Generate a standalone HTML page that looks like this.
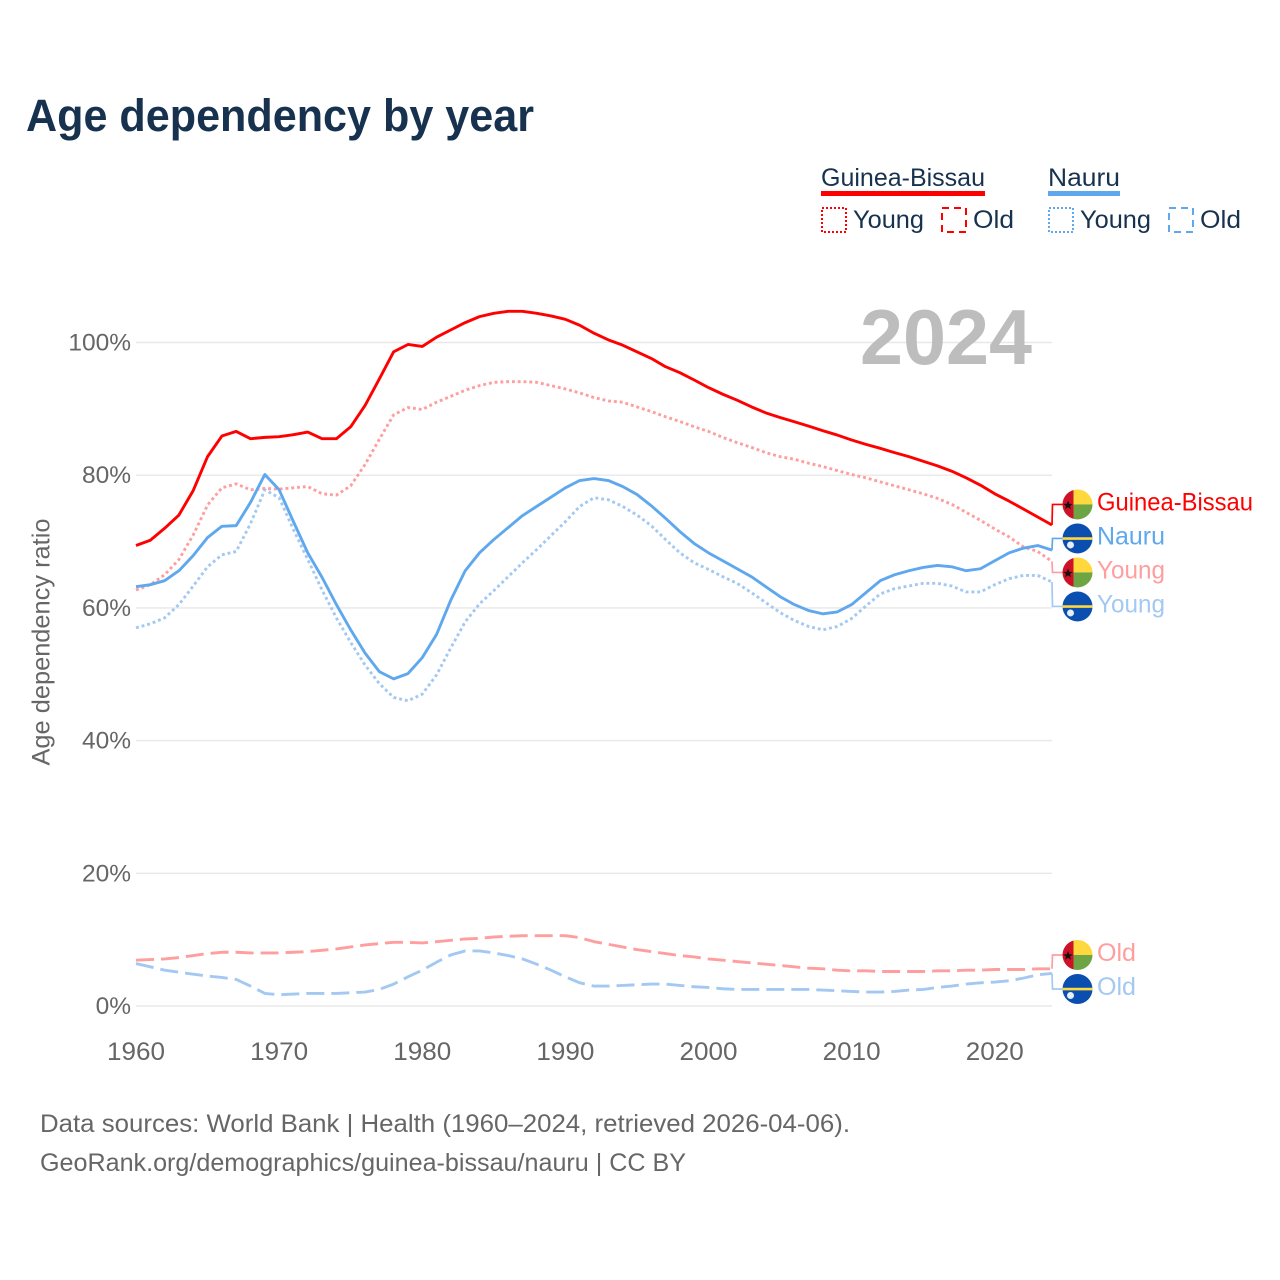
<!DOCTYPE html>
<html lang="en">
<head>
<meta charset="utf-8">
<title>Age dependency by year</title>
<style>
html,body{margin:0;padding:0;background:#fff;}
svg{display:block;font-family:"Liberation Sans",sans-serif;}
</style>
</head>
<body>
<svg id="chart" xmlns="http://www.w3.org/2000/svg" width="1280" height="1280" viewBox="0 0 1280 1280">
  <defs>
    <clipPath id="flag-clip"><circle cx="0" cy="0" r="15"/></clipPath>
  </defs>
  <rect x="0" y="0" width="1280" height="1280" fill="#ffffff"/>
  <text x="26" y="131" font-size="45" font-weight="700" fill="#17324f" textLength="508" lengthAdjust="spacingAndGlyphs">Age dependency by year</text>

  <g id="gridlines"></g>
  <text x="1032" y="364" text-anchor="end" font-size="78" font-weight="700" fill="#bdbdbd" textLength="172" lengthAdjust="spacingAndGlyphs">2024</text>
  <g id="axes"></g>
  <text transform="translate(49.5,642) rotate(-90)" text-anchor="middle" font-size="25" fill="#666666" textLength="247" lengthAdjust="spacingAndGlyphs">Age dependency ratio</text>
  <g id="series"></g>
  <g id="end-labels"></g>

  <g>
    <g>
      <text x="821" y="186" font-size="25" fill="#17324f" textLength="164" lengthAdjust="spacingAndGlyphs">Guinea-Bissau</text>
      <rect x="821" y="191" width="164" height="5" fill="#ff0000"/>
    </g>
    <g>
      <rect x="822" y="208" width="24" height="24" fill="none" stroke="#ff0000" stroke-width="2" stroke-dasharray="2 2"/>
      <text x="853" y="228" font-size="25" fill="#17324f" textLength="71" lengthAdjust="spacingAndGlyphs">Young</text>
    </g>
    <g>
      <rect x="942" y="208" width="24" height="24" fill="none" stroke="#ff0000" stroke-width="2" stroke-dasharray="7 5"/>
      <text x="973" y="228" font-size="25" fill="#17324f" textLength="41" lengthAdjust="spacingAndGlyphs">Old</text>
    </g>
    <g>
      <text x="1048" y="186" font-size="25" fill="#17324f" textLength="72" lengthAdjust="spacingAndGlyphs">Nauru</text>
      <rect x="1048" y="191" width="72" height="5" fill="#5fa8ee"/>
    </g>
    <g>
      <rect x="1049" y="208" width="24" height="24" fill="none" stroke="#5fa8ee" stroke-width="2" stroke-dasharray="2 2"/>
      <text x="1080" y="228" font-size="25" fill="#17324f" textLength="71" lengthAdjust="spacingAndGlyphs">Young</text>
    </g>
    <g>
      <rect x="1169" y="208" width="24" height="24" fill="none" stroke="#5fa8ee" stroke-width="2" stroke-dasharray="7 5"/>
      <text x="1200" y="228" font-size="25" fill="#17324f" textLength="41" lengthAdjust="spacingAndGlyphs">Old</text>
    </g>
  </g>

  <text x="40" y="1132" font-size="25" fill="#666666" textLength="810" lengthAdjust="spacingAndGlyphs">Data sources: World Bank | Health (1960–2024, retrieved 2026-04-06).</text>
  <text x="40" y="1171" font-size="25" fill="#666666" textLength="646" lengthAdjust="spacingAndGlyphs">GeoRank.org/demographics/guinea-bissau/nauru | CC BY</text>
</svg>

<script>
const firstYear = 1960;
const yTickValues = [0, 20, 40, 60, 80, 100];
const yTickLabels = ["0%", "20%", "40%", "60%", "80%", "100%"];
const xTickValues = [1960, 1970, 1980, 1990, 2000, 2010, 2020];
const xTickLabels = ["1960", "1970", "1980", "1990", "2000", "2010", "2020"];

const guineaTotal = [69.4,70.2,72.0,74.0,77.7,82.8,85.9,86.6,85.5,85.7,85.8,86.1,86.5,85.5,85.5,87.3,90.5,94.5,98.6,99.7,99.4,100.8,101.9,103.0,103.9,104.4,104.7,104.7,104.4,104.0,103.5,102.6,101.4,100.4,99.6,98.6,97.6,96.35,95.45,94.35,93.2,92.2,91.3,90.3,89.4,88.7,88.05,87.4,86.7,86.05,85.3,84.65,84.05,83.4,82.8,82.1,81.4,80.6,79.6,78.5,77.2,76.1,74.9,73.7,72.5];
const guineaYoung = [62.7,63.5,65.0,67.3,71.0,75.5,78.1,78.7,77.8,78.0,77.9,78.1,78.3,77.2,77.0,78.4,81.6,85.4,89.1,90.2,89.9,91.0,91.9,92.8,93.5,94.0,94.1,94.1,94.0,93.5,93.0,92.4,91.7,91.2,91.0,90.3,89.6,88.8,88.1,87.3,86.6,85.7,84.9,84.2,83.4,82.8,82.4,81.8,81.3,80.7,80.1,79.6,79.0,78.4,77.8,77.2,76.5,75.6,74.4,73.2,71.9,70.7,69.2,68.5,67.0];
const guineaOld = [6.9,7.0,7.1,7.3,7.6,7.9,8.1,8.1,8.0,8.0,8.0,8.1,8.2,8.4,8.6,8.9,9.2,9.4,9.6,9.6,9.5,9.7,9.9,10.1,10.2,10.4,10.5,10.6,10.6,10.6,10.6,10.3,9.7,9.3,8.9,8.5,8.2,7.9,7.6,7.4,7.1,6.9,6.7,6.5,6.3,6.1,5.9,5.7,5.6,5.4,5.3,5.3,5.2,5.2,5.2,5.2,5.3,5.3,5.4,5.4,5.5,5.5,5.5,5.6,5.6];
const nauruTotal = [63.2,63.5,64.1,65.6,67.9,70.6,72.3,72.4,75.9,80.1,77.8,73.0,68.3,64.6,60.5,56.7,53.2,50.4,49.3,50.1,52.5,56.0,61.2,65.6,68.3,70.3,72.1,73.9,75.3,76.7,78.1,79.2,79.5,79.2,78.3,77.1,75.4,73.5,71.5,69.7,68.3,67.1,65.9,64.7,63.2,61.7,60.5,59.6,59.1,59.4,60.5,62.3,64.1,65.0,65.6,66.1,66.4,66.2,65.6,65.9,67.1,68.3,69.0,69.4,68.7];
const nauruYoung = [57.0,57.6,58.5,60.5,63.3,66.2,68.0,68.5,72.7,77.8,76.6,71.8,67.3,62.7,58.5,54.8,51.4,48.6,46.5,46.0,47.0,49.9,54.0,57.9,60.6,62.6,64.7,66.8,68.8,70.9,73.0,75.3,76.6,76.3,75.3,74.0,72.4,70.3,68.3,66.8,65.8,64.7,63.7,62.3,60.8,59.3,58.1,57.2,56.7,57.2,58.4,60.3,62.1,62.9,63.3,63.7,63.7,63.3,62.4,62.4,63.5,64.4,64.9,64.9,63.9];
const nauruOld = [6.4,5.9,5.4,5.1,4.8,4.5,4.3,4.0,3.0,1.9,1.7,1.8,1.9,1.9,1.9,2.0,2.1,2.5,3.3,4.4,5.4,6.6,7.7,8.3,8.3,8.0,7.6,7.1,6.3,5.4,4.4,3.5,3.0,3.0,3.1,3.2,3.3,3.3,3.1,2.9,2.8,2.6,2.5,2.5,2.5,2.5,2.5,2.5,2.4,2.3,2.2,2.1,2.1,2.2,2.4,2.5,2.8,3.0,3.3,3.5,3.6,3.8,4.2,4.7,4.9];

const SVGNS = "http://www.w3.org/2000/svg";
const xScale = function (year) { return 136 + (year - firstYear) * (1052 - 136) / 64; };
const yScale = function (value) { return 1006 - value * 6.635; };

function make(tag, parent) {
  const el = document.createElementNS(SVGNS, tag);
  parent.appendChild(el);
  return el;
}

const gridGroup = document.getElementById("gridlines");
const axesGroup = document.getElementById("axes");
const seriesGroup = document.getElementById("series");
const labelGroup = document.getElementById("end-labels");

yTickValues.forEach(function (v, i) {
  const line = make("line", gridGroup);
  
  
  line.setAttribute("x1", 136);
  line.setAttribute("x2", 1052);
  line.setAttribute("y1", yScale(v));
  line.setAttribute("y2", yScale(v));
  line.setAttribute("stroke", "#e8e8e8");
  line.setAttribute("stroke-width", 1.4);

  const label = make("text", axesGroup);
  
  
  label.setAttribute("x", 131);
  label.setAttribute("y", yScale(v) + 8);
  label.setAttribute("text-anchor", "end");
  label.setAttribute("font-size", 24.5);
  label.setAttribute("fill", "#666666");
  label.textContent = yTickLabels[i];
});

xTickValues.forEach(function (v, i) {
  const label = make("text", axesGroup);
  
  
  label.setAttribute("x", xScale(v));
  label.setAttribute("y", 1060);
  label.setAttribute("text-anchor", "middle");
  label.setAttribute("font-size", 25);
  label.setAttribute("fill", "#666666");
  label.setAttribute("textLength", 58);
  label.setAttribute("lengthAdjust", "spacingAndGlyphs");
  label.textContent = xTickLabels[i];
});

const lineStyles = {
  total: { width: 2.9, dash: "" },
  young: { width: 2.9, dash: "2.9 2.9" },
  old: { width: 2.9, dash: "18 7" }
};

const seriesList = [
  { key: "nauru-old", values: nauruOld, style: "old", color: "#a3c9f2", flag: "nauru", text: "Old" },
  { key: "guinea-old", values: guineaOld, style: "old", color: "#ff9e9e", flag: "guinea", text: "Old" },
  { key: "nauru-young", values: nauruYoung, style: "young", color: "#a3c9f2", flag: "nauru", text: "Young" },
  { key: "guinea-young", values: guineaYoung, style: "young", color: "#ff9e9e", flag: "guinea", text: "Young" },
  { key: "nauru-total", values: nauruTotal, style: "total", color: "#5fa8ee", flag: "nauru", text: "Nauru" },
  { key: "guinea-total", values: guineaTotal, style: "total", color: "#ff0000", flag: "guinea", text: "Guinea-Bissau" }
];

seriesList.forEach(function (s) {
  const st = lineStyles[s.style];
  const d = s.values.map(function (v, i) {
    return (i ? "L" : "M") + xScale(firstYear + i).toFixed(2) + " " + yScale(v).toFixed(2);
  }).join("");
  const path = make("path", seriesGroup);
  
  
  path.setAttribute("d", d);
  path.setAttribute("fill", "none");
  path.setAttribute("stroke", s.color);
  path.setAttribute("stroke-width", st.width);
  path.setAttribute("stroke-linejoin", "round");
  if (st.dash) path.setAttribute("stroke-dasharray", st.dash);
});

/* Dodge end labels: overlapping labels are merged into evenly spaced clusters */
const labelGap = 34;
const labelNudge = 0.8;
const ordered = seriesList.map(function (s) {
  return { s: s, y: yScale(s.values[s.values.length - 1]) };
}).sort(function (a, b) { return a.y - b.y; });

let clusters = ordered.map(function (o) { return { items: [o], mid: o.y }; });
let merged = true;
while (merged) {
  merged = false;
  for (let i = 0; i < clusters.length - 1; i++) {
    const a = clusters[i];
    const b = clusters[i + 1];
    const aBottom = a.mid + (a.items.length - 1) * labelGap / 2;
    const bTop = b.mid - (b.items.length - 1) * labelGap / 2;
    if (bTop - aBottom < labelGap) {
      const items = a.items.concat(b.items);
      const mean = items.reduce(function (t, o) { return t + o.y; }, 0) / items.length;
      clusters.splice(i, 2, { items: items, mid: mean });
      merged = true;
      break;
    }
  }
}

clusters.forEach(function (c) {
  c.items.forEach(function (o, idx) {
    const ly = c.mid + (idx - (c.items.length - 1) / 2) * labelGap + labelNudge;
    const s = o.s;

    const conn = make("path", labelGroup);
    
    
    conn.setAttribute("d", "M1052 " + o.y.toFixed(2) + "L1052.5 " + ly.toFixed(2) + "L1064 " + ly.toFixed(2));
    conn.setAttribute("fill", "none");
    conn.setAttribute("stroke", s.color);
    conn.setAttribute("stroke-width", 1.7);

    const flag = make("g", labelGroup);
    
    
    flag.setAttribute("transform", "translate(1077.5," + ly.toFixed(2) + ")");
    flag.setAttribute("clip-path", "url(#flag-clip)");

    if (s.flag === "guinea") {
      const red = make("rect", flag);
      red.setAttribute("x", -15); red.setAttribute("y", -15);
      red.setAttribute("width", 11); red.setAttribute("height", 30);
      red.setAttribute("fill", "#ce1126");
      const yellow = make("rect", flag);
      yellow.setAttribute("x", -4); yellow.setAttribute("y", -15);
      yellow.setAttribute("width", 19); yellow.setAttribute("height", 15);
      yellow.setAttribute("fill", "#ffd83d");
      const green = make("rect", flag);
      green.setAttribute("x", -4); green.setAttribute("y", 0);
      green.setAttribute("width", 19); green.setAttribute("height", 15);
      green.setAttribute("fill", "#6da544");
      const star = make("polygon", flag);
      star.setAttribute("points", "-9.5,-4 -8.2,-0.6 -4.7,-0.6 -7.5,1.5 -6.5,4.8 -9.5,2.8 -12.5,4.8 -11.5,1.5 -14.3,-0.6 -10.8,-0.6");
      star.setAttribute("fill", "#111111");
    } else {
      const blue = make("rect", flag);
      blue.setAttribute("x", -15); blue.setAttribute("y", -15);
      blue.setAttribute("width", 30); blue.setAttribute("height", 30);
      blue.setAttribute("fill", "#0a4fb0");
      const stripe = make("rect", flag);
      stripe.setAttribute("x", -15); stripe.setAttribute("y", -1.2);
      stripe.setAttribute("width", 30); stripe.setAttribute("height", 2.6);
      stripe.setAttribute("fill", "#ffd83d");
      const sun = make("circle", flag);
      sun.setAttribute("cx", -7); sun.setAttribute("cy", 6.5);
      sun.setAttribute("r", 3.5);
      sun.setAttribute("fill", "#e6eef8");
    }

    const label = make("text", labelGroup);
    
    
    label.setAttribute("x", 1097);
    label.setAttribute("y", (ly + 6).toFixed(2));
    label.setAttribute("font-size", 25);
    label.setAttribute("fill", s.color);
    const widths = { "Guinea-Bissau": 156, "Nauru": 68, "Young": 68, "Old": 39 };
    label.setAttribute("textLength", widths[s.text]);
    label.setAttribute("lengthAdjust", "spacingAndGlyphs");
    label.textContent = s.text;
  });
});
</script>
</body>
</html>
